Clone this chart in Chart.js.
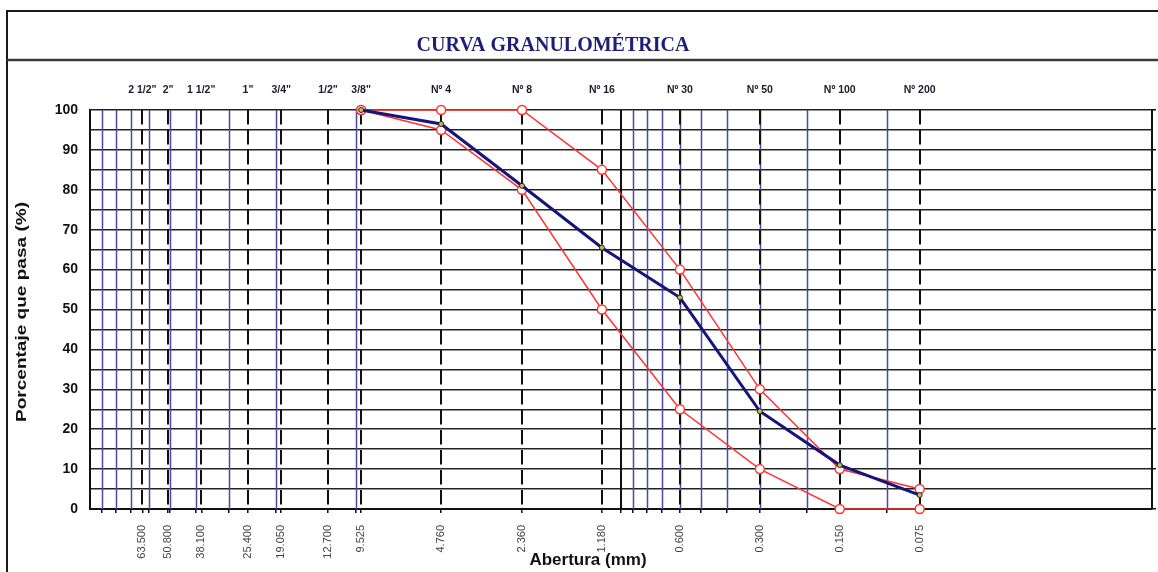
<!DOCTYPE html>
<html>
<head>
<meta charset="utf-8">
<script src="https://cdn.jsdelivr.net/npm/chart.js@4.4.0/dist/chart.umd.min.js"></script>
<style>
html,body{margin:0;padding:0;background:#fff;}
#wrap{width:1158px;height:572px;position:relative;background:#fff;}
</style>
</head>
<body>
<div id="wrap"><canvas id="c"></canvas></div>
<script>
// ---- data ----
const chartTitle = 'CURVA GRANULOMÉTRICA';
const xAxisTitle = 'Abertura (mm)';
const yAxisTitle = 'Porcentaje que pasa (%)';
const sieveNames = ['2 1/2"', '2"', '1 1/2"', '1"', '3/4"', '1/2"', '3/8"', 'Nº 4', 'Nº 8', 'Nº 16', 'Nº 30', 'Nº 50', 'Nº 100', 'Nº 200'];
const sieveSizes = [63.5, 50.8, 38.1, 25.4, 19.05, 12.7, 9.525, 4.76, 2.36, 1.18, 0.6, 0.3, 0.15, 0.075];
const sieveTickLabels = ['63.500', '50.800', '38.100', '25.400', '19.050', '12.700', '9.525', '4.760', '2.360', '1.180', '0.600', '0.300', '0.150', '0.075'];
const curveSizes = [9.525, 4.76, 2.36, 1.18, 0.6, 0.3, 0.15, 0.075];
const sample = [100, 96.5, 81, 65.5, 53, 24.5, 11, 3.5];
const upperLimit = [100, 100, 100, 85, 60, 30, 10, 5];
const lowerLimit = [100, 95, 80, 50, 25, 10, 0, 0];
const minorGrid = [90, 80, 70, 60, 50, 40, 30, 20, 10, 0.9, 0.8, 0.7, 0.6, 0.5, 0.4, 0.3, 0.2, 0.1];
const majorGrid = [1];

const toPts = (ys) => curveSizes.map((s, i) => ({x: s, y: ys[i]}));
const allXTicks = [...new Set([...sieveSizes, ...minorGrid, ...majorGrid])].sort((a, b) => b - a);

const SANS = '"Liberation Sans", Arial, sans-serif';
const SERIF = '"Liberation Serif", "Times New Roman", serif';

const decorPlugin = {
  id: 'decor',
  beforeDatasetsDraw(chart) {
    const {ctx, chartArea: a, scales: {x}} = chart;
    ctx.save();
    ctx.beginPath();
    ctx.rect(a.left, a.top, a.right - a.left, a.bottom - a.top);
    ctx.clip();
    // minor blue lines
    ctx.strokeStyle = '#4848aa';
    ctx.lineWidth = 1.5;
    minorGrid.forEach(v => {
      const px = Math.round(x.getPixelForValue(v)) + 0.5;
      ctx.beginPath(); ctx.moveTo(px, a.top); ctx.lineTo(px, a.bottom); ctx.stroke();
    });
    // major black line
    ctx.strokeStyle = '#111';
    ctx.lineWidth = 2;
    majorGrid.forEach(v => {
      const px = Math.round(x.getPixelForValue(v));
      ctx.beginPath(); ctx.moveTo(px, a.top); ctx.lineTo(px, a.bottom); ctx.stroke();
    });
    // dashed sieve lines
    ctx.setLineDash([14.5, 5.5]);
    sieveSizes.forEach(v => {
      const px = Math.round(x.getPixelForValue(v));
      ctx.beginPath(); ctx.moveTo(px, a.top); ctx.lineTo(px, a.bottom); ctx.stroke();
    });
    ctx.restore();
  },
  afterDraw(chart) {
    const {ctx, scales: {x}} = chart;
    const W = chart.width, H = chart.height;
    ctx.save();
    // frame
    ctx.strokeStyle = '#1a1a1a';
    ctx.lineWidth = 2;
    ctx.beginPath();
    ctx.moveTo(7, H); ctx.lineTo(7, 11); ctx.lineTo(W, 11);
    ctx.stroke();
    ctx.strokeStyle = '#3a3a3a';
    ctx.lineWidth = 2.5;
    ctx.beginPath(); ctx.moveTo(7, 60); ctx.lineTo(W, 60); ctx.stroke();
    // title
    ctx.fillStyle = '#1e1e78';
    ctx.font = 'bold 20px ' + SERIF;
    ctx.textAlign = 'center';
    ctx.textBaseline = 'alphabetic';
    ctx.fillText(chartTitle, 553, 51);
    // sieve names on top
    ctx.fillStyle = '#1c1c2c';
    ctx.font = 'bold 10.5px ' + SANS;
    sieveSizes.forEach((v, i) => {
      ctx.fillText(sieveNames[i], x.getPixelForValue(v), 93);
    });
    // x axis title
    ctx.fillStyle = '#111';
    ctx.font = 'bold 17px ' + SANS;
    ctx.fillText(xAxisTitle, 588, 565);
    // y axis title
    ctx.save();
    ctx.translate(22, 312);
    ctx.rotate(-Math.PI / 2);
    ctx.scale(1.36, 1);
    ctx.font = 'bold 14px ' + SANS;
    ctx.textBaseline = 'middle';
    ctx.fillText(yAxisTitle, 0, 0);
    ctx.restore();
    ctx.restore();
  }
};

new Chart(document.getElementById('c'), {
  type: 'scatter',
  data: {
    datasets: [
      {
        label: 'Muestra',
        data: toPts(sample),
        showLine: true,
        borderColor: '#15157a',
        borderWidth: 3,
        pointRadius: 2.5,
        pointBackgroundColor: '#c8c820',
        pointBorderColor: '#15157a',
        pointBorderWidth: 1,
        tension: 0,
        clip: false
      },
      {
        label: 'Límite superior',
        data: toPts(upperLimit),
        showLine: true,
        borderColor: '#ff3333',
        borderWidth: 1.5,
        pointRadius: 4.5,
        pointBackgroundColor: '#ffffff',
        pointBorderColor: '#ff3333',
        pointBorderWidth: 1.5,
        tension: 0,
        clip: false
      },
      {
        label: 'Límite inferior',
        data: toPts(lowerLimit),
        showLine: true,
        borderColor: '#ff3333',
        borderWidth: 1.5,
        pointRadius: 4.5,
        pointBackgroundColor: '#ffffff',
        pointBorderColor: '#ff3333',
        pointBorderWidth: 1.5,
        tension: 0,
        clip: false
      }
    ]
  },
  options: {
    responsive: true,
    maintainAspectRatio: false,
    animation: false,
    devicePixelRatio: 1,
    layout: {padding: {top: 110, left: 0, right: 0, bottom: 0}},
    plugins: {legend: {display: false}, tooltip: {enabled: false}, title: {display: false}},
    scales: {
      x: {
        type: 'logarithmic',
        position: 'bottom',
        min: 0.01,
        max: 100,
        reverse: true,
        afterBuildTicks: (s) => { s.ticks = allXTicks.map(v => ({value: v})); },
        afterFit: (s) => { s.height = 63; },
        ticks: {
          autoSkip: false,
          minRotation: 90,
          maxRotation: 90,
          padding: 12,
          color: '#444',
          font: {family: SANS, size: 11},
          callback: (v) => { const i = sieveSizes.indexOf(v); return i >= 0 ? sieveTickLabels[i] : ''; }
        },
        grid: {display: true, drawOnChartArea: false, drawTicks: true, tickLength: 4, color: '#111', lineWidth: 1.5},
        border: {display: true, color: '#111', width: 2}
      },
      y: {
        position: 'left',
        min: 0,
        max: 100,
        afterFit: (s) => { s.width = 90; },
        ticks: {
          stepSize: 5,
          autoSkip: false,
          padding: 12,
          color: '#111',
          font: {family: SANS, size: 14, weight: 'bold'},
          callback: (v) => (v % 10 === 0 ? v : '')
        },
        grid: {color: '#222', lineWidth: 1.5, drawTicks: false},
        border: {display: true, color: '#111', width: 2}
      },
      y2: {
        position: 'right',
        min: 0,
        max: 100,
        afterFit: (s) => { s.width = 6; },
        ticks: {display: false, stepSize: 10},
        grid: {drawOnChartArea: false, drawTicks: true, tickLength: 4, color: '#111', lineWidth: 1.5},
        border: {display: true, color: '#111', width: 2}
      }
    }
  },
  plugins: [decorPlugin]
});
</script>
</body>
</html>
